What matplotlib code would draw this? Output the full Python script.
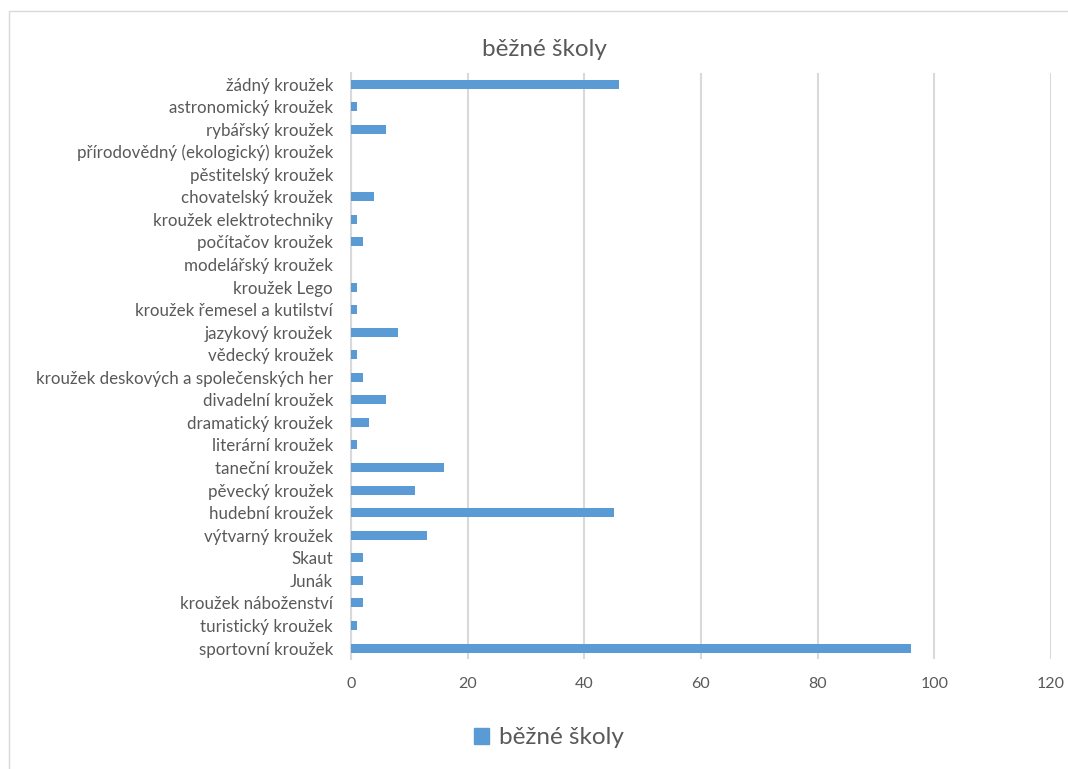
import matplotlib
matplotlib.use("Agg")
import matplotlib.pyplot as plt
from matplotlib.patches import Rectangle

plt.rcParams['font.family'] = ['Lato', 'DejaVu Sans']

# Categories listed from bottom to top of the chart
categories = [
    "sportovní kroužek",
    "turistický kroužek",
    "kroužek náboženství",
    "Junák",
    "Skaut",
    "výtvarný kroužek",
    "hudební kroužek",
    "pěvecký kroužek",
    "taneční kroužek",
    "literární kroužek",
    "dramatický kroužek",
    "divadelní kroužek",
    "kroužek deskových a společenských her",
    "vědecký kroužek",
    "jazykový kroužek",
    "kroužek řemesel a kutilství",
    "kroužek Lego",
    "modelářský kroužek",
    "počítačov kroužek",
    "kroužek elektrotechniky",
    "chovatelský kroužek",
    "pěstitelský kroužek",
    "přírodovědný (ekologický) kroužek",
    "rybářský kroužek",
    "astronomický kroužek",
    "žádný kroužek",
]
values = [96, 1, 2, 2, 2, 13, 45, 11, 16, 1, 3, 6, 2, 1, 8, 1, 1, 0, 2, 1, 4, 0, 0, 6, 1, 46]
series_name = "běžné školy"
x_ticks = [0, 20, 40, 60, 80, 100, 120]

W, H = 1068, 769
fig = plt.figure(figsize=(W / 100, H / 100), dpi=100)
fig.patch.set_facecolor("white")

# chart frame
fig.patches.append(Rectangle((9 / W, -0.01), 1.02, 1 - 11 / H + 0.01,
                             transform=fig.transFigure, fill=False,
                             edgecolor="#d9d9d9", linewidth=1.0, zorder=0))

n = len(categories)
pitch = 22.56
bottom_px = 659.3
top_px = bottom_px - n * pitch
ax = fig.add_axes([351 / W, 1 - bottom_px / H, 700 / W, (bottom_px - top_px) / H])

bar_color = "#5b9bd5"
text_color = "#595959"
grid_color = "#d9d9d9"

ax.barh(range(n), values, height=0.4, color=bar_color, zorder=3)

ax.set_xlim(0, 120)
ax.set_ylim(-0.5, n - 0.5)
ax.set_xticks(x_ticks)
ax.set_xticklabels([str(t) for t in x_ticks])
ax.set_yticks(range(n))
ax.set_yticklabels(categories)

ax.xaxis.grid(True, color=grid_color, linewidth=1.5, zorder=0)
ax.set_axisbelow(True)
for side in ["top", "right", "bottom"]:
    ax.spines[side].set_visible(False)
ax.spines["left"].set_color(grid_color)
ax.spines["left"].set_linewidth(1.5)

ax.tick_params(axis="x", length=0, colors=text_color, labelsize=11.5, pad=13)
ax.tick_params(axis="y", length=0, colors=text_color, labelsize=12.2, pad=13)

fig.text(544 / W, 1 - 49 / H, series_name, ha="center", va="center",
         fontsize=17.5, color=text_color)

leg = fig.legend(handles=[Rectangle((0, 0), 1, 1, color=bar_color)],
                 labels=[series_name], loc="center",
                 bbox_to_anchor=(549 / W, 1 - 738 / H), frameon=False,
                 fontsize=17.5, handlelength=0.6, handleheight=0.6,
                 handletextpad=0.4)
for t in leg.get_texts():
    t.set_color(text_color)

fig.savefig("out.png", dpi=100, facecolor="white")
